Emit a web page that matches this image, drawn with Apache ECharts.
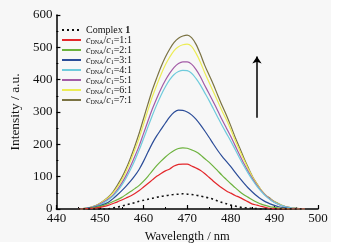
<!DOCTYPE html>
<html>
<head>
<meta charset="utf-8">
<script src="https://cdn.jsdelivr.net/npm/echarts@6/dist/echarts.min.js"></script>
<style>
  html, body { margin: 0; padding: 0; background: #ffffff; }
  #chart { width: 362px; height: 249px; }
</style>
</head>
<body>
<div id="chart"></div>
<script>
// wavelength grid, nm
var wavelength = [];
for (var w = 445; w <= 497; w++) wavelength.push(w);

// intensities, one value per nm from 445 to 497
var complex1 = [0,0,0,0,0,0,0,1,3,6,9,13,16,20,24,27,30,33,36,39,41,43,45,46,47,46,45,43,40,37,34,30,25,20,16,12,9,6,4,3,2,1,0,0,0,0,0,0,0,0,0,0,0];
var ratio1 = [0,0,1,2,3,5,8,12,17,22,28,34,40,48,57,68,79,90,101,110,118,124,133,138,139,139,133,127,120,110,98,86,75,65,56,49,42,36,29,22,15,12,8,5,2,1,0,0,0,0,0,0,0];
var ratio2 = [0,0,1,3,5,8,12,17,23,29,36,45,54,63,73,86,101,118,134,148,161,172,181,187,189,188,183,177,168,156,145,132,118,104,91,78,66,54,44,36,28,21,15,11,7,5,3,2,1,0,0,0,0];
var ratio3 = [0,1,2,4,7,10,15,22,32,44,57,71,86,103,123,148,176,203,226,246,266,285,299,306,305,300,291,278,261,242,222,201,181,163,147,131,113,96,80,65,52,40,30,22,16,11,7,4,2,1,0,0,0];
var ratio4 = [0,1,2,4,8,13,20,29,40,55,74,96,122,151,183,218,254,289,322,352,378,400,416,425,429,428,420,404,384,360,336,310,284,258,234,210,184,158,133,110,89,70,54,40,29,20,14,9,5,3,2,1,0];
var ratio5 = [0,1,2,5,9,15,23,32,43,60,80,104,132,163,196,234,272,309,342,372,398,420,438,450,455,455,448,432,410,383,357,331,304,276,250,224,196,168,141,116,93,73,56,42,30,21,14,9,6,3,2,1,0];
var ratio6 = [0,1,3,6,10,17,26,36,50,68,90,117,148,183,220,263,306,347,383,416,446,470,490,502,508,510,503,482,455,422,392,363,333,303,276,245,212,182,152,124,98,77,58,43,31,22,15,10,6,4,2,1,0];
var ratio7 = [0,1,3,6,11,18,27,38,53,74,97,125,158,195,235,280,325,368,405,440,470,495,515,528,535,538,530,510,480,445,415,385,352,320,290,257,222,190,158,128,100,78,58,43,33,23,16,10,6,4,2,1,0];

var seriesNames = ['Complex 1', 'r1', 'r2', 'r3', 'r4', 'r5', 'r6', 'r7'];
var seriesData = [complex1, ratio1, ratio2, ratio3, ratio4, ratio5, ratio6, ratio7];
var ratioLabels = ['1:1', '2:1', '3:1', '4:1', '5:1', '6:1', '7:1'];
var colors = ['#111111', '#e3272b', '#6cb23d', '#2b4c98', '#6fcbdc', '#a35ba6', '#ecec55', '#7b7343'];

var serif = 'Liberation Serif, Times New Roman, serif';

var series = [];
for (var i = 0; i < seriesNames.length; i++) {
    var pts = [];
    for (var j = 0; j < wavelength.length; j++) pts.push([wavelength[j], seriesData[i][j]]);
    series.push({
        name: seriesNames[i],
        type: 'line',
        data: pts,
        symbol: 'none',
        smooth: 0.3,
        z: 10 - i,
        lineStyle: { color: colors[i], width: i === 0 ? 1.6 : 1.2, type: i === 0 ? [2, 3] : 'solid' },
        itemStyle: { color: colors[i] }
    });
}
// the arrow
series[0].markLine = {
    silent: true,
    symbol: ['none', 'arrow'],
    symbolSize: 7,
    label: { show: false },
    lineStyle: { color: '#000', width: 1.5, type: 'solid' },
    data: [[{ coord: [486, 282] }, { coord: [486, 472] }]]
};

var chart = echarts.init(document.getElementById('chart'));
chart.setOption({
    animation: false,
    backgroundColor: '#ffffff',
    color: colors,
    graphic: [{
        type: 'rect', z: -10, silent: true,
        shape: { x: 0, y: 0, width: 331, height: 242 },
        style: { fill: '#f7f7f7' }
    }],
    grid: { left: 53, right: 44, top: 15, bottom: 40 },
    legend: {
        orient: 'vertical',
        left: 56,
        top: 20,
        itemWidth: 19,
        itemHeight: 8,
        itemGap: 0,
        itemStyle: { opacity: 0 },
        data: seriesNames,
        textStyle: {
            fontFamily: serif, fontSize: 10, color: '#111', lineHeight: 10,
            rich: {
                i: { fontFamily: serif, fontStyle: 'italic', fontSize: 10, color: '#111' },
                s: { fontFamily: serif, fontSize: 6, color: '#111', verticalAlign: 'bottom', lineHeight: 6, padding: [4, 0, 0, 0] },
                b: { fontFamily: serif, fontWeight: 'bold', fontSize: 10, color: '#111' },
                n: { fontFamily: serif, fontSize: 10, color: '#111' }
            }
        },
        formatter: function (name) {
            if (name === 'Complex 1') return '{n|Complex }{b|1}';
            var k = seriesNames.indexOf(name) - 1;
            return '{i|c}{s|DNA}{n|/}{i|c}{s|1}{n|=' + ratioLabels[k] + '}';
        }
    },
    xAxis: {
        type: 'value',
        min: 440, max: 500, interval: 10,
        name: 'Wavelength / nm',
        nameLocation: 'middle',
        nameGap: 17,
        nameTextStyle: { fontFamily: serif, fontSize: 12.5, color: '#111' },
        axisLine: { lineStyle: { color: '#000', width: 1.5 } },
        axisTick: { inside: true, length: 4, lineStyle: { color: '#000', width: 1.2 } },
        minorTick: { show: true, splitNumber: 2, length: 2, lineStyle: { color: '#000', width: 1 } },
        axisLabel: { fontFamily: serif, fontSize: 13, color: '#111', margin: 3 },
        splitLine: { show: false }
    },
    yAxis: {
        type: 'value',
        min: 0, max: 600, interval: 100,
        name: 'Intensity / a.u.',
        nameLocation: 'middle',
        nameGap: 12,
        nameTextStyle: { fontFamily: serif, fontSize: 13.5, color: '#111' },
        axisLine: { show: true, lineStyle: { color: '#000', width: 1.5 } },
        axisTick: { show: true, inside: true, length: 4, lineStyle: { color: '#000', width: 1.2 } },
        minorTick: { show: true, splitNumber: 2, length: 2, lineStyle: { color: '#000', width: 1 } },
        axisLabel: { fontFamily: serif, fontSize: 13, color: '#111', margin: 4 },
        splitLine: { show: false }
    },
    series: series
});
</script>
</body>
</html>
